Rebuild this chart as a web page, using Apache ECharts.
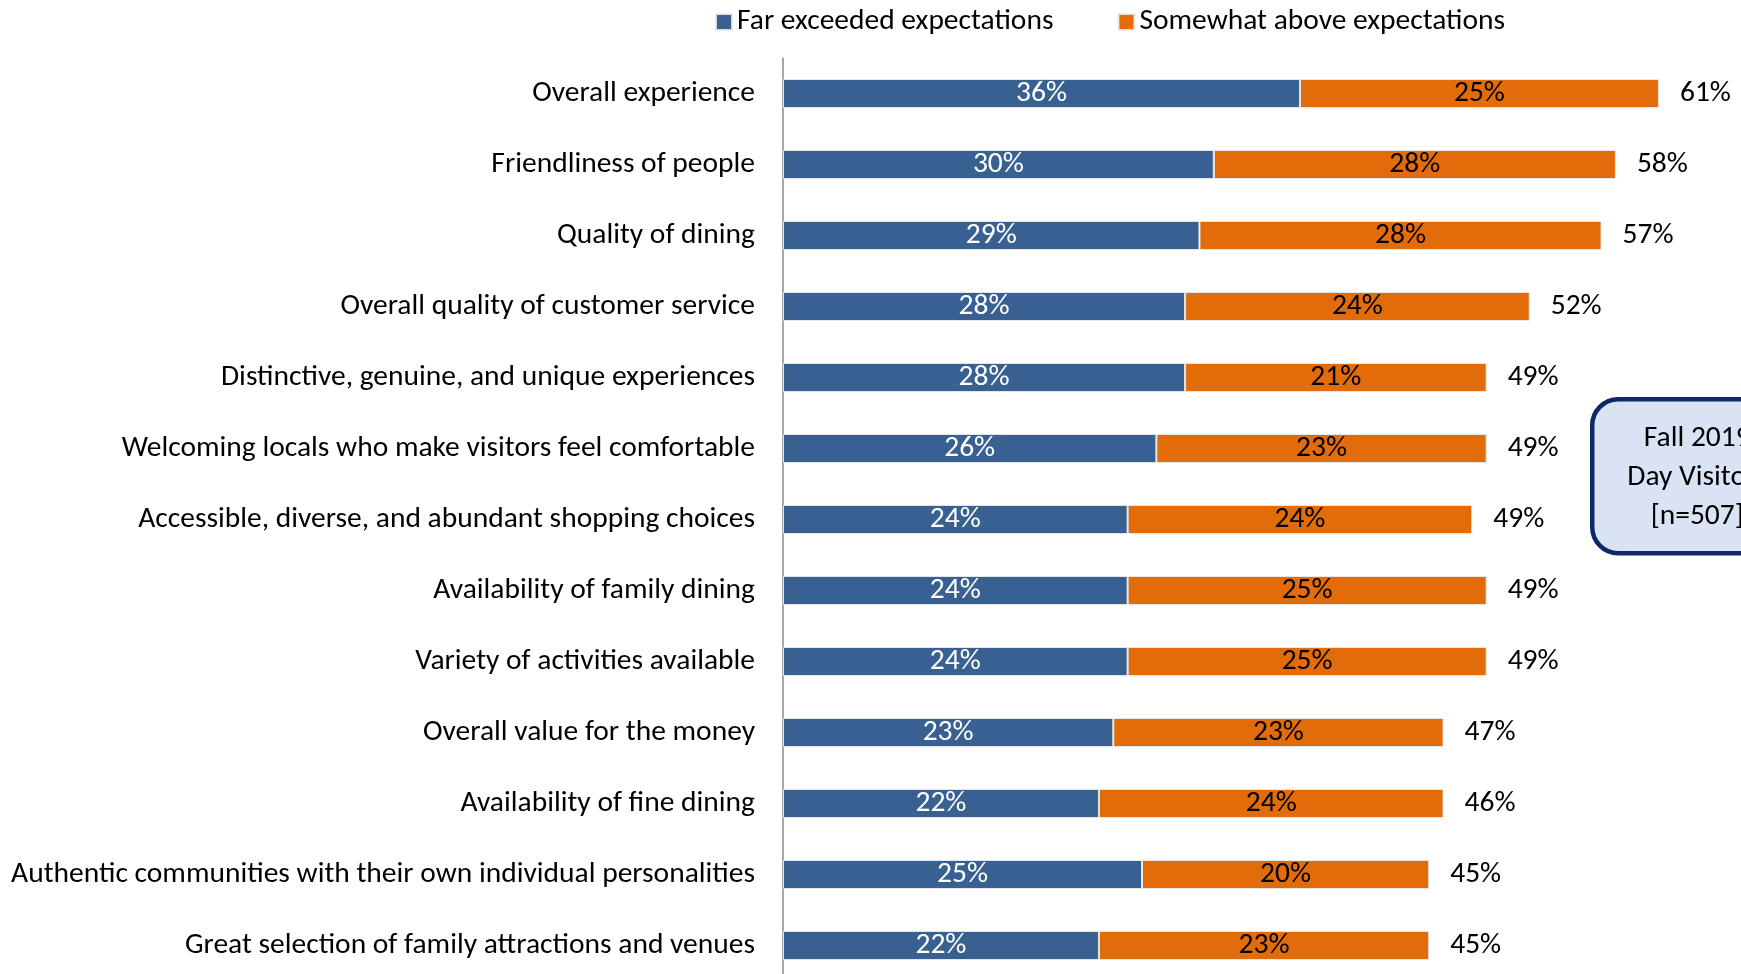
<!DOCTYPE html>
<html>
<head>
<meta charset="utf-8">
<title>Visitor expectations</title>
<script src="https://cdn.jsdelivr.net/npm/echarts@6/dist/echarts.min.js"></script>
<style>
  html, body { margin: 0; padding: 0; background: #ffffff; }
  #chart { width: 1741px; height: 974px; }
</style>
</head>
<body>
<div id="chart"></div>
<script>
// Attributes rated, top to bottom
const categories = [
  'Overall experience',
  'Friendliness of people',
  'Quality of dining',
  'Overall quality of customer service',
  'Distinctive, genuine, and unique experiences',
  'Welcoming locals who make visitors feel comfortable',
  'Accessible, diverse, and abundant shopping choices',
  'Availability of family dining',
  'Variety of activities available',
  'Overall value for the money',
  'Availability of fine dining',
  'Authentic communities with their own individual personalities',
  'Great selection of family attractions and venues'
];
// Share of respondents (%)
const farExceeded = [36, 30, 29, 28, 28, 26, 24, 24, 24, 23, 22, 25, 22];
const somewhatAbove = [25, 28, 28, 24, 21, 23, 24, 25, 25, 23, 24, 20, 23];
const totals = [61, 58, 57, 52, 49, 49, 49, 49, 49, 47, 46, 45, 45];
const seriesNames = ['Far exceeded expectations', 'Somewhat above expectations'];
const boxLines = ['Fall 2019', 'Day Visitors', '[n=507]'];

const FONT = 'Carlito, Calibri, "Liberation Sans", sans-serif';
const FS = 29.5;
const BLUE = '#386192';
const ORANGE = '#E36C0A';

const chart = echarts.init(document.getElementById('chart'), null, { renderer: 'canvas' });

const barStyle = (color) => ({ color: color, borderColor: 'rgba(235,235,235,0.9)', borderWidth: 1 });

chart.setOption({
  animation: false,
  backgroundColor: '#ffffff',
  textStyle: { fontFamily: FONT },
  legend: {
    data: seriesNames,
    left: 710,
    top: 2,
    icon: 'rect',
    itemWidth: 16,
    itemHeight: 16,
    itemGap: 64,
    textStyle: { fontFamily: FONT, fontSize: FS, color: '#000000' }
  },
  // the plot runs past the bottom edge, so let it overflow the container
  grid: { left: 783, top: 58, width: 933.4, height: 923, outerBoundsMode: 'none', containLabel: false },
  xAxis: {
    type: 'value',
    min: 0,
    max: 65,
    show: false
  },
  yAxis: {
    type: 'category',
    data: categories,
    inverse: true,
    axisLine: { show: true, lineStyle: { color: '#8c8c8c', width: 1.5 } },
    axisTick: { show: false },
    axisLabel: { margin: 28, fontFamily: FONT, fontSize: FS, color: '#000000' }
  },
  series: [
    {
      name: seriesNames[0],
      type: 'bar',
      stack: 'total',
      barWidth: 29,
      data: farExceeded,
      itemStyle: barStyle(BLUE),
      label: {
        show: true,
        position: 'inside',
        formatter: '{c}%',
        color: '#ffffff',
        fontFamily: FONT,
        fontSize: FS
      }
    },
    {
      name: seriesNames[1],
      type: 'bar',
      stack: 'total',
      barWidth: 29,
      data: somewhatAbove,
      itemStyle: barStyle(ORANGE),
      label: {
        show: true,
        position: 'inside',
        formatter: '{c}%',
        color: '#000000',
        fontFamily: FONT,
        fontSize: FS
      }
    },
    {
      // zero-length cap carrying the combined share at the end of each bar
      name: 'Total',
      type: 'bar',
      stack: 'total',
      barWidth: 29,
      data: totals.map(() => 0),
      itemStyle: { color: 'rgba(0,0,0,0)' },
      label: {
        show: true,
        position: 'right',
        distance: 21,
        formatter: (p) => totals[p.dataIndex] + '%',
        color: '#000000',
        fontFamily: FONT,
        fontSize: FS
      },
      tooltip: { show: false }
    }
  ],
  graphic: [
    {
      type: 'group',
      left: 1590,
      top: 397,
      children: [
        {
          type: 'rect',
          shape: { x: 0, y: 0, width: 210, height: 154, r: 26 },
          style: { fill: '#DAE3F3', stroke: '#0E2A66', lineWidth: 4.5 }
        },
        {
          type: 'text',
          x: 105,
          y: 78,
          style: {
            text: boxLines.join('\n'),
            fontFamily: FONT,
            fontSize: FS,
            lineHeight: 39,
            fill: '#000000',
            align: 'center',
            verticalAlign: 'middle'
          }
        }
      ]
    }
  ]
});
</script>
</body>
</html>
